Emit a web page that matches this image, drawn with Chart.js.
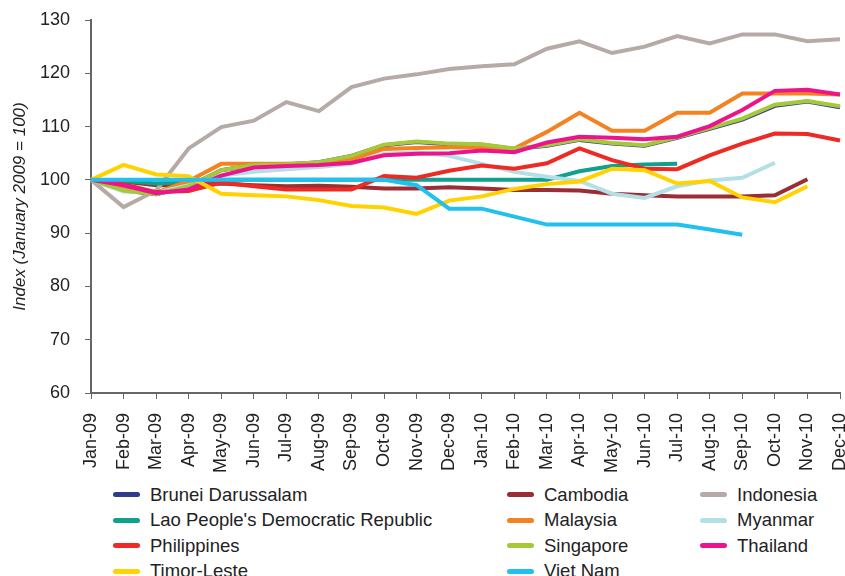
<!DOCTYPE html>
<html>
<head>
<meta charset="utf-8">
<script src="https://cdn.jsdelivr.net/npm/chart.js@4"></script>
<style>
    body { margin: 0; background: #fff; }
    #wrap { position: relative; width: 845px; height: 576px; overflow: hidden; }
    #legend {
        position: absolute; left: 113px; top: 482px;
        display: grid; grid-template-columns: 394px 193px 200px;
        grid-auto-rows: 25.5px;
        font-family: "Liberation Sans", Arial, sans-serif; font-size: 18.5px; color: #222;
    }
    .item { display: flex; align-items: center; white-space: nowrap; }
    .swatch { display: inline-block; width: 27px; height: 5px; border-radius: 3px; margin-right: 10px; }
</style>
</head>
<body>
<div id="wrap">
    <canvas id="chart" width="845" height="480"></canvas>
    <div id="legend"></div>
</div>
<script>
const months = ['Jan-09', 'Feb-09', 'Mar-09', 'Apr-09', 'May-09', 'Jun-09', 'Jul-09', 'Aug-09', 'Sep-09', 'Oct-09', 'Nov-09', 'Dec-09',
    'Jan-10', 'Feb-10', 'Mar-10', 'Apr-10', 'May-10', 'Jun-10', 'Jul-10', 'Aug-10', 'Sep-10', 'Oct-10', 'Nov-10', 'Dec-10'];

const brunei = [100, 98.0, 97.3, 98.8, 101.8, 102.8, 102.9, 103.3, 104.5, 106.5, 107.1, 106.7, 106.6, 105.8, 106.4, 107.5, 106.8, 106.4, 107.9, 109.6, 111.3, 113.9, 114.7, 113.6];
const cambodia = [100, 99.7, 99.0, 99.0, 99.3, 99.0, 98.8, 98.9, 98.7, 98.4, 98.4, 98.6, 98.4, 98.1, 98.1, 98.0, 97.4, 97.1, 96.9, 96.9, 96.9, 97.1, 100.1];
const indonesia = [100, 94.9, 98.0, 105.9, 109.9, 111.1, 114.6, 112.9, 117.4, 119.0, 119.8, 120.8, 121.3, 121.7, 124.6, 126.0, 123.8, 125.0, 127.0, 125.6, 127.3, 127.3, 126.0, 126.4];
const lao = [100, 99.8, 99.3, 99.6, 100, 100, 100, 100, 100, 100, 100, 100, 100, 100, 100, 101.6, 102.6, 102.9, 103.0];
const malaysia = [100, 98.8, 97.6, 99.8, 103.0, 103.0, 103.0, 103.2, 103.8, 105.8, 106.0, 106.1, 106.1, 105.9, 109.0, 112.6, 109.2, 109.2, 112.6, 112.6, 116.2, 116.2, 116.2, 116.0];
const myanmar = [100, 97.8, 97.6, 99.0, 100.8, 101.5, 102.0, 102.4, 103.0, 104.9, 105.2, 104.5, 103.0, 101.5, 100.6, 99.8, 97.4, 96.6, 98.8, 99.9, 100.4, 103.2];
const philippines = [100, 99.2, 97.7, 97.9, 99.5, 98.8, 98.2, 98.2, 98.2, 100.7, 100.4, 101.7, 102.7, 102.1, 103.1, 105.9, 103.7, 102.1, 102.0, 104.6, 106.8, 108.7, 108.6, 107.4];
const singapore = [100, 98.0, 97.3, 98.8, 101.8, 102.8, 102.9, 103.3, 104.5, 106.6, 107.2, 106.8, 106.7, 105.9, 106.5, 107.6, 106.9, 106.5, 108.0, 109.7, 111.5, 114.1, 114.8, 113.8];
const thailand = [100, 99.0, 97.5, 98.2, 100.8, 102.3, 102.6, 102.8, 103.2, 104.6, 104.9, 105.0, 105.5, 105.2, 107.0, 108.1, 107.9, 107.6, 108.1, 110.1, 113.1, 116.7, 116.9, 116.0];
const timorLeste = [100, 102.8, 101.0, 100.7, 97.4, 97.1, 96.9, 96.2, 95.1, 94.8, 93.6, 96.1, 96.9, 98.3, 99.2, 99.7, 102.1, 101.8, 99.3, 99.8, 96.7, 95.8, 98.8];
const vietNam = [100, 100, 100, 100, 100, 100, 100, 100, 100, 100, 99.0, 94.6, 94.6, 93.1, 91.6, 91.6, 91.6, 91.6, 91.6, 90.7, 89.7];

const series = [
    { label: 'Brunei Darussalam', data: brunei, color: '#2e3b8f' },
    { label: 'Cambodia', data: cambodia, color: '#9b2d35' },
    { label: 'Indonesia', data: indonesia, color: '#b5aaa5' },
    { label: "Lao People's Democratic Republic", data: lao, color: '#0fa08e' },
    { label: 'Malaysia', data: malaysia, color: '#f58220' },
    { label: 'Myanmar', data: myanmar, color: '#b3dfe6' },
    { label: 'Philippines', data: philippines, color: '#ee2a24' },
    { label: 'Singapore', data: singapore, color: '#a5c93a' },
    { label: 'Thailand', data: thailand, color: '#ec148c' },
    { label: 'Timor-Leste', data: timorLeste, color: '#ffd200' },
    { label: 'Viet Nam', data: vietNam, color: '#22c0ef' }
];

const axisColor = '#666';
const font = 'Liberation Sans';

const chart = new Chart(document.getElementById('chart').getContext('2d'), {
    type: 'line',
    data: {
        labels: months,
        datasets: series.map((s, i) => ({
            label: s.label,
            data: s.data,
            borderColor: s.color,
            backgroundColor: s.color,
            borderWidth: 4,
            pointRadius: 0,
            tension: 0,
            fill: false,
            order: series.length - i
        }))
    },
    options: {
        responsive: false,
        animation: false,
        layout: { padding: { top: 20, right: 5, bottom: 0, left: 0 } },
        plugins: {
            legend: { display: false },
            tooltip: { enabled: false }
        },
        scales: {
            x: {
                grid: { display: true, drawOnChartArea: false, drawTicks: true, tickLength: 6, color: axisColor },
                border: { color: axisColor, width: 2 },
                ticks: {
                    autoSkip: false, maxRotation: 90, minRotation: 90, padding: 14,
                    color: '#222', font: { family: font, size: 18 }
                },
                // keep the plot edges where the original has them
                afterFit: (scale) => { scale.paddingLeft = 0; scale.paddingRight = 0; scale.height = 87; }
            },
            y: {
                min: 60, max: 130,
                grid: { display: true, drawOnChartArea: false, drawTicks: true, tickLength: 6, color: axisColor },
                border: { color: axisColor, width: 2 },
                ticks: { stepSize: 10, padding: 15, color: '#222', font: { family: font, size: 18 } },
                title: {
                    display: true, text: 'Index (January 2009 = 100)', color: '#222',
                    font: { family: font, size: 17, style: 'italic' }, padding: { top: 10, bottom: 8 }
                },
                afterFit: (scale) => { scale.width = 91; scale.paddingTop = 0; scale.paddingBottom = 0; }
            }
        }
    }
});

// legend in three columns like the original
const legend = document.getElementById('legend');
series.forEach(s => {
    const item = document.createElement('div');
    item.className = 'item';
    const sw = document.createElement('span');
    sw.className = 'swatch';
    sw.style.background = s.color;
    item.appendChild(sw);
    item.appendChild(document.createTextNode(s.label));
    legend.appendChild(item);
});
</script>
</body>
</html>
